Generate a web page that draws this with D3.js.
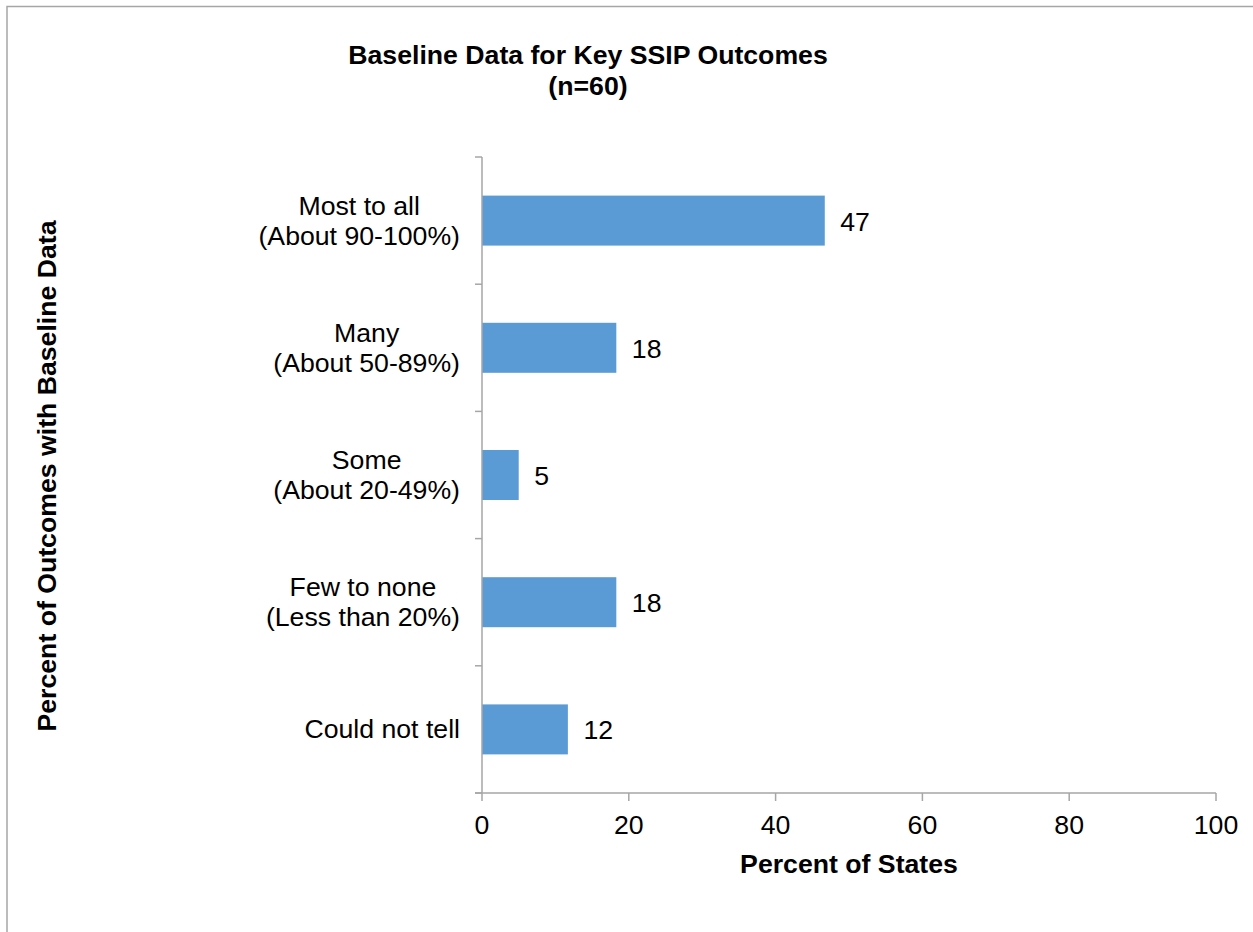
<!DOCTYPE html>
<html><head><meta charset="utf-8">
<script src="https://cdn.jsdelivr.net/npm/d3@7"></script>
<style>body{margin:0;background:#fff;} svg{display:block;} text{font-family:"Liberation Sans",Arial,sans-serif;}</style>
</head><body>
<svg id="c" width="1253" height="932"></svg>
<script>
const categories = [
  ["Most to all","(About 90-100%)"],
  ["Many","(About 50-89%)"],
  ["Some","(About 20-49%)"],
  ["Few to none","(Less than 20%)"],
  ["Could not tell"]
];
const values = [46.7, 18.3, 5, 18.3, 11.7];
const valueLabels = ["47","18","5","18","12"];
const xTicks = [0,20,40,60,80,100];
const title = ["Baseline Data for Key SSIP Outcomes","(n=60)"];
const xTitle = "Percent of States";
const yTitle = "Percent of Outcomes with Baseline Data";

const FS = 26.67;
const svg = d3.select("#c");
// outer border
svg.append("rect").attr("x",7).attr("y",6.5).attr("width",1260).attr("height",940)
  .attr("fill","none").attr("stroke","#a6a6a6").attr("stroke-width",1.5);

const L=482, R=1216, T=157, B=793;
const x = d3.scaleLinear().domain([0,100]).range([L,R]);
const yb = d3.scaleBand().domain(d3.range(categories.length)).range([T,B]);

// bars
svg.selectAll("rect.bar").data(values).enter().append("rect").attr("class","bar")
  .attr("x",x(0)).attr("y",(d,i)=>yb(i)+yb.bandwidth()/2-25).attr("height",50)
  .attr("width",d=>x(d)-x(0)).attr("fill","#5b9bd5");

// value labels
svg.selectAll("text.val").data(values).enter().append("text").attr("class","val")
  .attr("x",d=>x(d)+15.5).attr("y",(d,i)=>yb(i)+yb.bandwidth()/2+10)
  .attr("font-size",FS).attr("fill","#000").text((d,i)=>valueLabels[i]);

const axisColor="#a6a6a6";
// y axis line + ticks at band boundaries
svg.append("line").attr("x1",L).attr("x2",L).attr("y1",T).attr("y2",B).attr("stroke",axisColor).attr("stroke-width",1.5);
d3.range(categories.length+1).forEach(i=>{
  const yy = T + i*yb.step();
  svg.append("line").attr("x1",L-7).attr("x2",L).attr("y1",yy).attr("y2",yy).attr("stroke",axisColor).attr("stroke-width",1.5);
});
// x axis
svg.append("line").attr("x1",L-7).attr("x2",R).attr("y1",B).attr("y2",B).attr("stroke",axisColor).attr("stroke-width",1.5);
xTicks.forEach(t=>{
  svg.append("line").attr("x1",x(t)).attr("x2",x(t)).attr("y1",B).attr("y2",B+8).attr("stroke",axisColor).attr("stroke-width",1.5);
  svg.append("text").attr("x",x(t)).attr("y",B+41).attr("text-anchor","middle").attr("font-size",FS).text(t);
});

// category labels: lines centered to each other, block right-aligned
categories.forEach((lines,i)=>{
  const cy = yb(i)+yb.bandwidth()/2;
  const g = svg.append("g");
  const lh = 30;
  const texts = lines.map((s,j)=>g.append("text").attr("font-size",FS).attr("text-anchor","middle")
      .attr("y",cy + (j-(lines.length-1)/2)*lh + 9).text(s));
  const w = d3.max(texts,t=>t.node().getComputedTextLength());
  texts.forEach(t=>t.attr("x",460 - w/2));
});

// titles
title.forEach((s,j)=>svg.append("text").attr("x",588).attr("y",64+j*31).attr("text-anchor","middle")
  .attr("font-size",FS).attr("font-weight","bold").text(s));
svg.append("text").attr("x",(L+R)/2).attr("y",873).attr("text-anchor","middle")
  .attr("font-size",FS).attr("font-weight","bold").text(xTitle);
svg.append("text").attr("transform","translate(56,476) rotate(-90)").attr("text-anchor","middle")
  .attr("font-size",FS).attr("font-weight","bold").text(yTitle);
</script>
</body></html>
